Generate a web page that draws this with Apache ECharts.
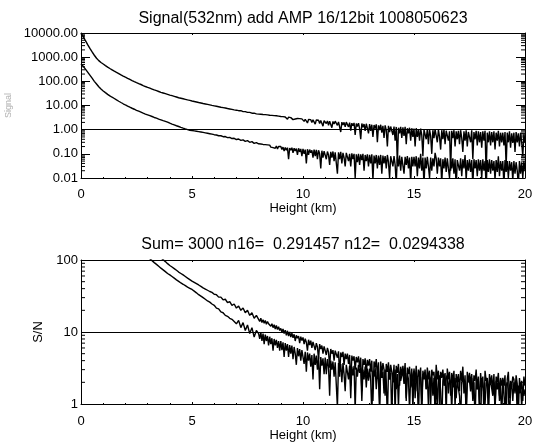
<!DOCTYPE html>
<html>
<head>
<meta charset="utf-8">
<script src="https://cdn.jsdelivr.net/npm/echarts@6/dist/echarts.min.js"></script>
<style>html,body{margin:0;padding:0;background:#fff;}#c{width:539px;height:447px;}</style>
</head>
<body>
<div id="c"></div>
<script>
// Height grid (km): 0.1 km sampling for 0-7.9 km, 0.05 km sampling for 8-20 km (noisy far range)
const heights = Array.from({length: 80}, (_, i) => i / 10)
  .concat(Array.from({length: 241}, (_, i) => 8 + i / 20));

// Top panel: signal, upper channel. Near range one row per km (0.1 km step),
// far range one row per 0.5 km (0.05 km step), last value at 20 km.
const sigUpper = [
  9500,7200,4800,3300,2300,1650,1200,900,720,600,
  520,450,390,340,300,265,235,210,185,165,
  148,133,120,108,98,89,81,74,67,61,
  56,52,48,44,41,38,35,33,31,29,
  27,25.5,24,22.5,21,20,19,18,17,16.2,
  15.4,14.7,14,13.3,12.7,12.1,11.6,11.1,10.6,10.1,
  9.7,9.3,8.9,8.5,8.2,7.9,7.5,7.2,6.9,6.6,
  6.4,6.1,6.1,5.6,5.6,5.2,5.2,4.8,4.8,4.5,
  4.4,4.1,4.35,4.0,4.25,3.9,4.2,3.85,4.1,3.8,
  3.95,3.6,3.9,3.55,3.8,3.4,3.75,3.45,3.65,3.3,
  3.5,3.1,3.45,2.9,3.35,3.05,2.7,3.3,2.85,3.15,
  3.1,2.6,3.05,2.75,2.3,2.9,2.55,2.85,2.4,2.8,
  2.8,2.2,2.7,2.4,1.9,2.65,2.3,2.6,2.0,2.55,
  2.6,1.7,2.5,2.1,2.45,1.8,2.4,2.0,1.4,2.35,
  2.4,1.8,2.3,1.5,2.25,1.9,1.2,2.2,1.7,2.25,
  2.2,1.5,2.1,1.75,0.8,2.05,1.55,2.0,1.3,2.05,
  2.0,1.3,1.95,0.9,1.85,1.45,1.9,0.6,1.8,1.35,
  1.85,1.1,0.4,1.8,1.25,1.7,0.9,1.75,1.15,0.7,
  1.7,0.9,1.6,0.5,1.55,1.1,1.65,0.3,1.5,0.95,
  1.6,0.75,1.45,0.45,1.5,0.95,0.2,1.45,0.8,1.35,
  1.4,0.6,1.35,0.35,1.3,0.04,1.2,0.7,1.3,0.45,
  1.25,0.55,1.3,0.25,1.15,0.7,1.2,0.35,1.15,0.5,
  1.1,0.2,1.15,0.5,1.0,0.35,1.1,0.6,0.08,1.0,
  1.0,0.4,1.05,0.25,1.0,0.55,0.1,0.95,0.45,1.05,
  0.95,0.3,1.0,0.5,0.15,0.95,0.4,1.0,0.25,0.9,
  0.95,0.35,0.85,0.02,0.9,0.45,0.95,0.2,0.85,0.4,
  0.9,0.25,0.95,0.45,0.12,0.85,0.35,0.95,0.2,0.8,
  0.85,0.3,0.95,0.06,0.8,0.4,0.9,0.22,0.85,0.3,
  0.8,0.18,0.85,0.35,0.9,0.015,0.75,0.3,0.85,0.22,
  0.8,0.3,0.85,0.15,0.75,0.35,0.9,0.2,0.75,0.3,
  0.75,0.22,0.8,0.03,0.75,0.3,0.85,0.18,0.7,0.28,
  0.75,0.12,0.8,0.3,0.7,0.2,0.75,0.3,0.08,0.65,
  0.3
];
// Top panel: signal, lower channel
const sigLower = [
  520,420,320,240,180,135,100,78,60,48,
  40,34,29,25,22,19.5,17,15,13.3,11.8,
  10.5,9.4,8.5,7.7,7.0,6.3,5.8,5.3,4.8,4.4,
  4.1,3.8,3.5,3.2,3.0,2.75,2.55,2.35,2.2,2.05,
  1.85,1.7,1.57,1.45,1.35,1.25,1.16,1.08,1.01,0.95,
  0.92,0.89,0.86,0.83,0.8,0.77,0.74,0.71,0.68,0.65,
  0.62,0.6,0.56,0.56,0.51,0.52,0.47,0.48,0.43,0.44,
  0.39,0.41,0.36,0.38,0.33,0.35,0.3,0.32,0.27,0.29,
  0.26,0.23,0.255,0.22,0.245,0.21,0.24,0.2,0.235,0.215,
  0.23,0.19,0.22,0.18,0.215,0.17,0.21,0.16,0.2,0.18,
  0.2,0.15,0.19,0.13,0.185,0.14,0.18,0.06,0.175,0.14,
  0.18,0.11,0.17,0.13,0.165,0.09,0.17,0.12,0.16,0.08,
  0.16,0.1,0.15,0.04,0.155,0.09,0.15,0.11,0.14,0.07,
  0.15,0.08,0.145,0.06,0.14,0.1,0.025,0.135,0.07,0.13,
  0.13,0.06,0.125,0.09,0.035,0.12,0.07,0.125,0.05,0.115,
  0.12,0.015,0.115,0.06,0.12,0.04,0.11,0.07,0.03,0.11,
  0.11,0.05,0.1,0.03,0.105,0.06,0.1,0.01,0.095,0.045,
  0.1,0.035,0.095,0.055,0.1,0.02,0.09,0.05,0.095,0.03,
  0.09,0.04,0.095,0.008,0.085,0.04,0.09,0.025,0.085,0.035,
  0.09,0.015,0.085,0.04,0.08,0.025,0.09,0.045,0.01,0.08,
  0.085,0.03,0.08,0.035,0.006,0.075,0.03,0.085,0.02,0.075,
  0.08,0.015,0.075,0.035,0.08,0.025,0.07,0.006,0.075,0.03,
  0.075,0.03,0.08,0.012,0.07,0.025,0.1,0.02,0.07,0.005,
  0.07,0.025,0.075,0.03,0.01,0.07,0.02,0.065,0.03,0.11,
  0.065,0.015,0.07,0.03,0.065,0.006,0.06,0.025,0.07,0.018,
  0.065,0.025,0.01,0.06,0.025,0.065,0.015,0.06,0.004,0.055,
  0.06,0.02,0.065,0.012,0.06,0.025,0.09,0.008,0.055,0.02,
  0.06,0.018,0.055,0.005,0.06,0.025,0.055,0.012,0.06,0.02,
  0.055,0.01,0.06,0.02,0.05,0.004,0.055,0.018,0.06,0.015,
  0.055,0.02,0.05,0.008,0.055,0.018,0.08,0.012,0.05,0.02,
  0.05,0.005,0.055,0.018,0.05,0.01,0.05,0.02,0.045,0.008,
  0.05,0.015,0.045,0.02,0.005,0.05,0.015,0.045,0.01,0.05,
  0.02
];

// Bottom panel: signal-to-noise ratio, upper (right) curve
const snUpper = [
  2500,2300,2100,1900,1700,1500,1350,1200,1050,930,
  820,740,670,610,560,510,470,430,400,370,
  340,315,290,270,250,232,215,200,186,173,
  161,150,140,131,122,114,107,101,95,89,
  84,80,76,72,68,65,62,59,56,53.5,
  51,49,47,45,43,41,39.5,38,36.5,35.5,
  33.5,33,30.5,30.5,28,28.5,25.5,26.5,23.5,24.5,
  21.5,23,20,21.5,18.5,20,17,18.5,15.5,17,
  15,14,15.5,13.5,14.8,13.2,14.5,12.8,14,13,
  13.2,12,13,11.5,12.6,11,12.3,10.8,11.8,10.5,
  11.2,10,11,9.5,10.6,9,10.4,8.8,10,8.5,
  9.6,8.3,9.3,7.5,9,8.2,8.8,7,8.6,7.6,
  8.4,6.8,8.1,7.2,5.5,7.8,6.6,7.6,6,7.3,
  7.2,5.6,7,6.2,4.2,6.8,5.8,6.5,5,6.3,
  6.2,4.8,6,5.3,3.2,5.8,5,5.6,4,5.5,
  5.6,4.4,5.4,2.4,5.2,4.5,5.3,3.5,5,4.2,
  5,3.6,4.8,1.8,4.7,4,4.6,3,4.5,3.8,
  4.6,3.2,4.4,1.5,4.2,3.5,4.3,2.6,4.1,3.4,
  4.2,2.8,4,1.1,3.9,3.2,4.2,2.4,3.8,0.8,
  3.9,2.6,3.7,3,1.3,3.6,2.8,3.8,2.2,3.5,
  3.6,2.2,3.5,0.7,3.4,2.7,3.6,1.8,3.3,2.5,
  3.4,2.4,3.7,1.1,3.2,2.6,3.3,1.7,3.1,0.8,
  3.1,2,3.4,1.5,3,2.4,3.2,0.6,2.9,2.3,
  3,1.6,3.2,2.2,2.9,0.9,3,2.5,2.8,1.4,
  3.5,2.2,2.9,1,2.8,2.3,3,1.8,2.7,0.7,
  3.1,2.2,2.8,1.3,2.7,2.1,2.9,0.9,2.6,2,
  2.6,1.5,2.9,2.1,3.3,1.4,2.5,0.6,2.8,2,
  2.7,1.9,2.6,1.2,2.5,2.1,3,1.6,2.4,0.8,
  2.7,1.7,2.4,0.7,2.9,2.1,2.3,1.2,2.6,1.9,
  2.5,1.5,2.6,0.9,2.4,2,2.7,1.3,2.3,1.8,
  2.3,1.8,2.5,0.6,2.2,2.8,1.2,2.1,1.7,2.4,
  2.2,1.4,2.5,1.9,0.7,2.3,1.6,2.1,1.1,2.4,
  1.8
];
// Bottom panel: signal-to-noise ratio, lower (left) curve
const snLower = [
  1800,1650,1500,1350,1200,1070,950,850,760,680,
  600,540,480,430,390,350,315,285,258,234,
  212,198,185,173,162,152,142,133,125,117,
  110,104,98,92,87,82,77,73,69,65,
  62,59,56,53,50.5,48,46,44,42,40.5,
  39,37,35,33,31.5,30,28.5,27,26,24.5,
  23.5,21.5,21,19,18.5,17,16.5,15.5,15,14,
  13,14.5,11.5,13.5,10.5,12.5,9.5,11.5,8.5,10.5,
  9.5,8,10,7.5,9.5,6.8,9.2,7.5,8.8,6.5,
  8.6,6.8,8.2,5.5,8,6.5,7.8,6,7.5,5.5,
  7.5,5.6,7.2,4.5,7,5.5,6.8,4.5,6.6,5,
  6.5,4.2,6.2,5,3.5,6,4.6,5.8,4,5.6,
  5.5,3.6,5.3,2.8,5.2,4,5,3.3,4.8,2.2,
  5,3.5,4.7,3,4.6,1.6,4.5,3.4,4.3,2.6,
  4.4,2.6,4.2,3.3,1.3,4,3,3.9,2.4,3.8,
  3.9,0.9,3.7,2.8,3.6,2,3.7,2.6,1.5,3.5,
  3.5,2.2,3.4,1.2,3.3,2.5,3.4,0.8,3.2,2.4,
  3.5,2.7,3.2,1.1,3,2.2,3.3,1.7,3.1,2.1,
  3.1,2.1,0.7,2.9,2.4,3.2,1.6,2.8,2.2,1,
  3,2.3,2.8,1.4,3,2.1,0.6,2.9,2.2,2.7,
  0.6,2.7,2,3,1.6,2.6,0.9,2.8,2.1,2.5,
  2.8,1.9,2.6,1.2,2.7,2.2,0.8,2.5,1.8,2.6,
  2.9,1.2,2.4,2,0.6,2.7,2.3,1.1,2.6,2.2,
  2.6,1.6,2.5,0.9,2.4,1.9,2.7,1.3,2.3,0.7,
  2.4,0.9,2.2,2.5,1.5,0.5,2.1,2.6,1.8,2.3,
  2.5,1.4,2.2,1.9,0.8,2.4,1.7,2.3,1.2,2.1,
  2.2,1.3,0.6,2,2.4,1.7,2.1,0.8,1.9,2.3,
  2.1,1.5,2.3,1.1,2,0.6,2.2,1.6,2.1,1,
  0.5,2.3,1.9,2,1,1.9,2.3,0.6,1.8,2.1,
  2.2,1.3,2,0.8,2.1,1.6,2.2,1.1,1.9,0.6,
  2.1,1.4,0.8,1.8,2,1.6,0.5,1.7,1.9,1.1,
  2,1.5,2.1,0.7,1.8,1.4,2,0.9,1.7,1.3,
  1.6
];

// Reference levels drawn as horizontal lines
const sigRefLevel = 1;
const snRefLevel = 10;

const titleTop = 'Signal(532nm) add AMP 16/12bit 1008050623';
const titleBottom = 'Sum= 3000 n16=  0.291457 n12=  0.0294338';
const xName = 'Height (km)';

const FONT = 'Liberation Sans';
const BLACK = '#000';

function pairs(ys) { return heights.map((h, i) => [h, ys[i]]); }

function logMinor(kFrom, kTo) {
  const out = [];
  for (let k = kFrom; k <= kTo; k++) {
    for (let m = 2; m <= 9; m++) out.push([0, m * Math.pow(10, k)]);
  }
  return out;
}

function xAxisDef(grid, pos, showLabel) {
  return {
    gridIndex: grid, type: 'value', min: 0, max: 20, interval: 5, position: pos,
    axisLine: {onZero: false, lineStyle: {color: BLACK, width: 1}},
    axisTick: {show: true, inside: true, length: 2, lineStyle: {color: BLACK}},
    minorTick: {show: true, splitNumber: 5, length: 1, lineStyle: {color: BLACK}},
    splitLine: {show: false},
    axisLabel: {show: showLabel, color: BLACK, fontSize: 13, fontFamily: FONT, margin: grid === 0 ? 10 : 11},
    name: showLabel ? xName : '',
    nameLocation: 'middle', nameGap: grid === 0 ? 24 : 23,
    nameTextStyle: {color: BLACK, fontSize: 13, fontFamily: FONT}
  };
}

function yAxisDef(grid, pos, min, max, showLabel, fmt, name, nameGap, nameStyle) {
  return {
    gridIndex: grid, type: 'log', logBase: 10, min: min, max: max, position: pos,
    axisLine: {onZero: false, lineStyle: {color: BLACK, width: 1}},
    axisTick: {show: true, inside: true, length: 9, lineStyle: {color: BLACK}},
    splitLine: {show: false},
    axisLabel: {show: showLabel, color: BLACK, fontSize: 13, fontFamily: FONT, margin: 3, formatter: fmt},
    name: name || '', nameLocation: 'middle', nameGap: nameGap || 0, nameRotate: 90,
    nameTextStyle: nameStyle || {}
  };
}

function minorTickSeries(xi, yi, data) {
  return {
    type: 'custom', xAxisIndex: xi, yAxisIndex: yi, silent: true, clip: false,
    encode: {x: 0, y: 1}, data: data, z: 5,
    renderItem: function (params, api) {
      const v = api.value(1);
      const a = api.coord([0, v]);
      const b = api.coord([20, v]);
      return {type: 'group', children: [
        {type: 'line', shape: {x1: a[0], y1: a[1], x2: a[0] + 4, y2: a[1]}, style: {stroke: BLACK, lineWidth: 1}},
        {type: 'line', shape: {x1: b[0] - 4, y1: b[1], x2: b[0], y2: b[1]}, style: {stroke: BLACK, lineWidth: 1}}
      ]};
    }
  };
}

function lineSeries(xi, yi, ys, refLevel) {
  const s = {
    type: 'line', xAxisIndex: xi, yAxisIndex: yi, data: pairs(ys),
    showSymbol: false, symbol: 'none', clip: true, silent: true, sampling: null,
    lineStyle: {color: BLACK, width: 1.4}, z: 3
  };
  if (refLevel != null) {
    s.markLine = {
      silent: true, symbol: ['none', 'none'], label: {show: false},
      lineStyle: {color: BLACK, type: 'solid', width: 1}, animation: false,
      data: [{yAxis: refLevel}]
    };
  }
  return s;
}

const chart = echarts.init(document.getElementById('c'), null, {renderer: 'canvas'});
chart.setOption({
  animation: false,
  backgroundColor: '#fff',
  title: [
    {text: titleTop, left: 303, top: 11, textAlign: 'center', padding: 0,
     textStyle: {color: BLACK, fontSize: 16, fontWeight: 'normal', fontFamily: FONT}},
    {text: titleBottom, left: 303, top: 237, textAlign: 'center', padding: 0,
     textStyle: {color: BLACK, fontSize: 16, fontWeight: 'normal', fontFamily: FONT}}
  ],
  grid: [
    {left: 81, top: 33, width: 444, height: 145, containLabel: false, outerBoundsMode: 'none'},
    {left: 81, top: 260, width: 444, height: 144, containLabel: false, outerBoundsMode: 'none'}
  ],
  xAxis: [
    xAxisDef(0, 'bottom', true),
    xAxisDef(0, 'top', false),
    xAxisDef(1, 'bottom', true),
    xAxisDef(1, 'top', false)
  ],
  yAxis: [
    yAxisDef(0, 'left', 0.01, 10000, true, v => Number(v).toFixed(2), 'Signal', 66,
      {color: '#b0b0b0', fontSize: 9, fontFamily: FONT}),
    yAxisDef(0, 'right', 0.01, 10000, false),
    yAxisDef(1, 'left', 1, 100, true, v => String(Math.round(v)), 'S/N', 34,
      {color: BLACK, fontSize: 13, fontFamily: FONT}),
    yAxisDef(1, 'right', 1, 100, false)
  ],
  series: [
    lineSeries(0, 0, sigUpper, sigRefLevel),
    lineSeries(0, 0, sigLower, null),
    lineSeries(2, 2, snUpper, snRefLevel),
    lineSeries(2, 2, snLower, null),
    minorTickSeries(0, 0, logMinor(-2, 3)),
    minorTickSeries(2, 2, logMinor(0, 1))
  ]
});
</script>
</body>
</html>
